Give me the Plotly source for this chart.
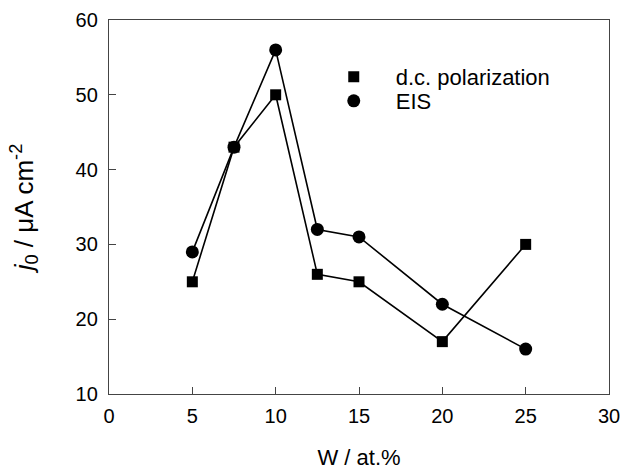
import plotly.graph_objects as go

w_at = [5, 7.5, 10, 12.5, 15, 20, 25]
dc_polarization = [25, 43, 50, 26, 25, 17, 30]
eis = [29, 43, 56, 32, 31, 22, 16]

x_ticks = [0, 5, 10, 15, 20, 25, 30]
y_ticks = [10, 20, 30, 40, 50, 60]

FONT = "Liberation Sans, Arial, sans-serif"

fig = go.Figure()
fig.add_trace(go.Scatter(x=w_at, y=dc_polarization, mode="lines",
                         line=dict(color="black", width=1.6), showlegend=False, hoverinfo="skip"))
fig.add_trace(go.Scatter(x=w_at, y=eis, mode="lines",
                         line=dict(color="black", width=1.6), showlegend=False, hoverinfo="skip"))
fig.add_trace(go.Scatter(x=w_at, y=dc_polarization, mode="markers", name="d.c. polarization",
                         marker=dict(symbol="square", size=11, color="black"), legend="legend"))
fig.add_trace(go.Scatter(x=w_at, y=eis, mode="markers", name="EIS",
                         marker=dict(symbol="circle", size=13, color="black"), legend="legend2"))

axis_common = dict(showgrid=False, zeroline=False, showline=True, linecolor="#444",
                   linewidth=1.3, mirror=True, ticks="inside", ticklen=7, tickcolor="#444",
                   tickwidth=1.3, automargin=False,
                   tickfont=dict(family=FONT, size=20, color="black"))

fig.update_xaxes(range=[0, 30], tickvals=x_ticks, ticklabelstandoff=4,
                 title=dict(text="W / at.%", font=dict(family=FONT, size=22, color="black"), standoff=27),
                 **axis_common)
fig.update_yaxes(range=[10, 60], tickvals=y_ticks, ticklabelstandoff=6,
                 title=dict(text="<i>j</i><sub>0</sub> / μA cm<sup>-2</sup>",
                            font=dict(family=FONT, size=26, color="black"), standoff=34),
                 **axis_common)

legend_common = dict(xanchor="left", yanchor="top", bgcolor="rgba(0,0,0,0)",
                     font=dict(family=FONT, size=22, color="black"), itemwidth=74)

fig.update_layout(
    width=621, height=470,
    margin=dict(l=109, r=12, t=20, b=76),
    paper_bgcolor="white", plot_bgcolor="white",
    font=dict(family=FONT, size=20, color="black"),
    legend=dict(x=0.4055, y=0.904, **legend_common),
    legend2=dict(x=0.4055, y=0.8396, **legend_common),
)

fig.write_html("out.html", config={"displayModeBar": False},
               post_script="document.body.style.margin='0';")
